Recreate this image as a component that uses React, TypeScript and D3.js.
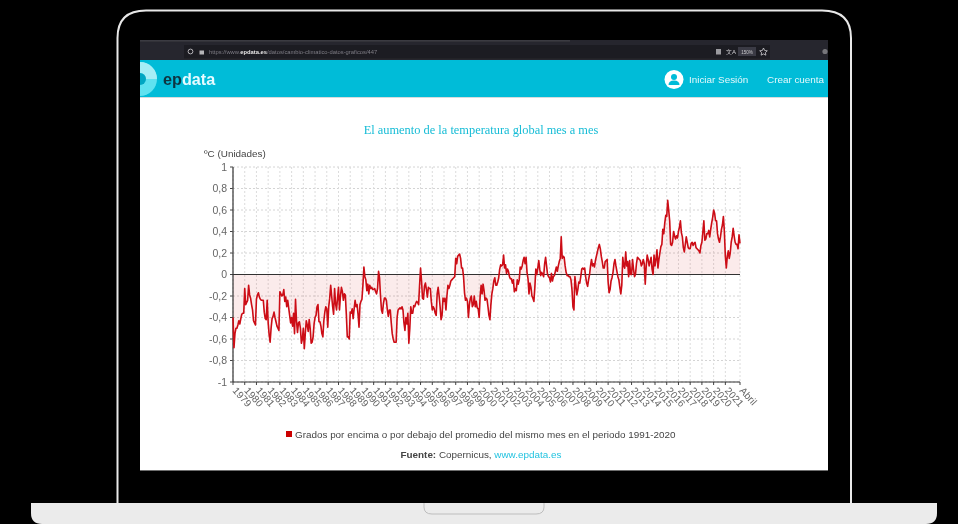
import React from "react";
import * as d3 from "d3";

// monthly anomaly, Jan 1979 to Apr 2022, one row per year
const anomalies: number[] = [
  -0.40,-0.68,-0.55,-0.50,-0.50,-0.47,-0.43,-0.46,-0.41,-0.37,-0.36,-0.36,
  -0.13,-0.28,-0.26,-0.24,-0.10,-0.19,-0.22,-0.28,-0.33,-0.43,-0.45,-0.47,
  -0.23,-0.19,-0.17,-0.21,-0.23,-0.24,-0.24,-0.24,-0.35,-0.41,-0.42,-0.24,
  -0.45,-0.56,-0.63,-0.50,-0.41,-0.39,-0.35,-0.40,-0.44,-0.48,-0.50,-0.52,
  -0.16,-0.18,-0.20,-0.19,-0.14,-0.25,-0.21,-0.30,-0.24,-0.31,-0.38,-0.45,
  -0.40,-0.48,-0.36,-0.55,-0.23,-0.43,-0.54,-0.45,-0.44,-0.50,-0.64,-0.60,
  -0.50,-0.69,-0.55,-0.43,-0.47,-0.53,-0.42,-0.50,-0.64,-0.63,-0.58,-0.46,
  -0.40,-0.38,-0.30,-0.28,-0.44,-0.44,-0.48,-0.55,-0.58,-0.43,-0.35,-0.30,
  -0.32,-0.49,-0.30,-0.22,-0.10,-0.20,-0.30,-0.37,-0.13,-0.27,-0.33,-0.22,
  -0.12,-0.33,-0.20,-0.12,-0.16,-0.24,-0.18,-0.19,-0.37,-0.58,-0.58,-0.60,
  -0.35,-0.36,-0.32,-0.41,-0.32,-0.24,-0.30,-0.28,-0.37,-0.49,-0.28,-0.25,
  -0.23,-0.10,0.07,-0.02,-0.05,-0.15,-0.09,-0.18,-0.10,-0.13,-0.12,-0.14,
  -0.14,-0.13,-0.16,-0.18,-0.13,0.03,-0.03,-0.20,-0.33,-0.36,-0.27,-0.22,
  -0.22,-0.24,-0.33,-0.39,-0.33,-0.33,-0.45,-0.55,-0.60,-0.63,-0.63,-0.63,
  -0.40,-0.33,-0.32,-0.31,-0.32,-0.30,-0.33,-0.45,-0.52,-0.40,-0.46,-0.36,
  -0.64,-0.50,-0.30,-0.36,-0.36,-0.29,-0.30,-0.27,-0.25,-0.26,-0.28,-0.10,
  0.06,-0.06,-0.22,-0.23,-0.11,-0.08,-0.14,-0.21,-0.12,-0.13,-0.13,-0.25,
  -0.33,-0.30,-0.32,-0.36,-0.38,-0.18,-0.12,-0.20,-0.30,-0.42,-0.38,-0.22,
  -0.25,-0.22,-0.33,-0.20,-0.10,-0.13,-0.10,-0.06,-0.05,-0.04,-0.03,-0.02,
  0.15,0.10,0.17,0.18,0.19,0.15,0.06,0.06,-0.02,-0.17,-0.24,-0.22,
  -0.25,-0.40,-0.28,-0.22,-0.20,-0.30,-0.28,-0.20,-0.30,-0.25,-0.31,-0.32,
  -0.40,-0.20,-0.10,-0.18,-0.09,-0.15,-0.24,-0.22,-0.23,-0.30,-0.38,-0.42,
  -0.28,-0.18,-0.13,-0.06,-0.03,-0.10,-0.10,-0.07,-0.03,0.05,0.09,0.08,
  0.09,0.18,0.06,0.09,0.01,0.05,0.03,-0.02,-0.04,-0.04,-0.08,-0.05,
  -0.16,-0.13,-0.15,-0.05,-0.09,-0.05,0.07,0.05,0.08,0.13,0.16,0.10,
  0.16,0.02,-0.04,-0.18,-0.08,-0.12,-0.20,-0.22,-0.25,-0.12,0.05,0.0,
  0.06,0.13,0.05,-0.01,0.02,0.0,-0.02,0.10,0.16,0.08,0.0,-0.02,
  -0.03,-0.07,0.01,-0.06,-0.02,-0.01,0.03,0.07,0.03,0.08,0.12,0.15,
  0.35,0.15,0.17,0.16,0.08,0.02,-0.01,-0.01,-0.02,-0.02,-0.05,-0.14,
  -0.30,-0.33,-0.02,-0.10,-0.19,-0.14,-0.07,-0.08,-0.02,0.05,0.06,0.05,
  0.06,-0.02,-0.08,-0.11,-0.05,0.0,0.08,0.14,0.08,0.10,0.07,0.13,
  0.17,0.21,0.25,0.28,0.24,0.17,0.12,0.06,0.06,0.12,0.13,0.14,
  -0.07,-0.17,-0.14,-0.06,-0.03,0.02,0.10,0.14,0.08,0.03,-0.02,-0.05,
  -0.12,-0.18,-0.10,0.16,0.08,0.06,0.21,0.08,0.12,-0.02,0.13,0.0,
  0.0,0.14,0.05,-0.02,0.0,0.10,0.16,0.15,0.14,0.13,0.08,0.10,
  0.14,0.10,-0.09,0.08,0.18,0.14,0.08,0.12,0.16,0.05,0.0,0.18,
  0.08,0.14,0.23,0.06,0.14,0.20,0.26,0.28,0.42,0.38,0.48,0.55,
  0.54,0.69,0.60,0.50,0.28,0.27,0.30,0.40,0.36,0.33,0.36,0.34,
  0.40,0.44,0.50,0.39,0.35,0.25,0.21,0.28,0.35,0.30,0.25,0.24,
  0.24,0.29,0.30,0.27,0.29,0.30,0.25,0.24,0.23,0.22,0.20,0.27,
  0.30,0.40,0.50,0.32,0.33,0.38,0.38,0.41,0.35,0.42,0.48,0.53,
  0.60,0.57,0.50,0.50,0.38,0.33,0.30,0.35,0.42,0.46,0.54,0.40,
  0.17,0.06,0.17,0.22,0.15,0.20,0.30,0.35,0.43,0.36,0.30,0.28,
  0.28,0.24,0.37,0.29,
];

const yearLabels = d3.range(1979, 2022).map(String);
const lastLabel = "Abril";
const yTicks = [1, 0.8, 0.6, 0.4, 0.2, 0, -0.2, -0.4, -0.6, -0.8, -1];

const width = 958;
const height = 524;
const sans = "'Liberation Sans', Arial, sans-serif";

const x = d3.scaleLinear().domain([0, anomalies.length - 1]).range([233, 740]);
const y = d3.scaleLinear().domain([-1, 1]).range([382, 167]);

const line = d3.line<number>().x((_, i) => x(i)).y((d) => y(d));
const area = d3.area<number>().x((_, i) => x(i)).y0(y(0)).y1((d) => y(d));
const yearTicks = yearLabels.map((label, i) => ({ label, pos: x(i * 12) }));
const fmt = (v: number) => String(v).replace(".", ",");

export default function App() {
  const endX = x(anomalies.length - 1);
  return (
    <svg width={width} height={height} style={{ position: "fixed", left: 0, top: 0, background: "#000" }}>
      <defs>
        <filter id="soft" x="0" y="0" width="100%" height="100%">
          <feGaussianBlur stdDeviation="0.45" />
        </filter>
        <clipPath id="logoClip">
          <rect x={140} y={60} width={30} height={37} />
        </clipPath>
      </defs>

      {/* laptop */}
      <path d="M117.5 503 V38 Q117.5 10.5 146 10.5 H822 Q851 10.5 851 38 V503" fill="none" stroke="#e8e8e8" strokeWidth={2} />
      <path d="M31 503 H937 V513 Q937 524 926 524 H42 Q31 524 31 513 Z" fill="#ebebeb" />
      <path d="M424 503 V507 Q424 514 432 514 H536 Q544 514 544 507 V503" fill="none" stroke="#bdbdbd" strokeWidth={1} />

      {/* browser */}
      <g filter="url(#soft)">
        <rect x={140} y={40} width={688} height={20} fill="#26262d" />
        <rect x={140} y={40} width={430} height={1.5} fill="#3a3a42" />
        <rect x={184} y={45} width={586} height={13.5} fill="#1c1b22" />
        <circle cx={190.5} cy={51.5} r={2.4} fill="none" stroke="#b5b5b8" strokeWidth={1} />
        <rect x={199.5} y={50.5} width={4.5} height={4} fill="#b5b5b8" />
        <text x={209} y={53.5} fontFamily={sans} fontSize={5.8} fill="#7f7f86">
          https://www.<tspan fill="#e6e6e6" fontWeight="bold">epdata.es</tspan>/datos/cambio-climatico-datos-graficos/447
        </text>
        <rect x={716} y={49} width={5} height={5.5} fill="#9a9a9f" />
        <text x={726} y={54} fontFamily={sans} fontSize={6} fill="#d0d0d3">文A</text>
        <rect x={738} y={47} width={18} height={9} fill="#3b3b44" />
        <text x={747} y={53.5} textAnchor="middle" fontFamily={sans} fontSize={4.6} fill="#c8c8cc">150%</text>
        <path d="M763.5 48 l1.2 2.5 2.6 .3 -1.9 1.8 .5 2.6 -2.4 -1.3 -2.4 1.3 .5 -2.6 -1.9 -1.8 2.6 -.3z" fill="none" stroke="#d0d0d3" strokeWidth={0.8} />
        <circle cx={825} cy={51.5} r={2.6} fill="#77777c" />

        <rect x={140} y={60} width={688} height={37} fill="#00bcd8" />
        <rect x={140} y={97} width={688} height={373} fill="#fff" />
        <rect x={140} y={97} width={688} height={1} fill="#d6dcdd" />
        <rect x={140} y={470} width={688} height={0.8} fill="#8a8a8a" />

        <g clipPath="url(#logoClip)">
          <circle cx={140} cy={79} r={17} fill="#5fe2f0" />
          <path d="M140 62 A17 17 0 0 1 157 79 L146 79 A6 6 0 0 0 140 73 Z" fill="#a6eef6" />
          <circle cx={140} cy={79} r={6} fill="#00a6c2" />
        </g>
        <text x={163} y={85} fontFamily={sans} fontSize={16.2} fontWeight="bold" fill="#0f3440">
          ep<tspan fill="#e6fbff">data</tspan>
        </text>

        <circle cx={674} cy={79.5} r={9.5} fill="#fff" />
        <circle cx={674} cy={77} r={3} fill="#00bcd8" />
        <path d="M668.5 85 Q668.5 80.5 674 80.5 Q679.5 80.5 679.5 85 Z" fill="#00bcd8" />
        <text x={689} y={83} fontFamily={sans} fontSize={9.9} fill="#e4f8fb">Iniciar Sesión</text>
        <text x={767} y={83} fontFamily={sans} fontSize={9.9} fill="#e4f8fb">Crear cuenta</text>

        {/* chart */}
        <text x={481} y={133.5} textAnchor="middle" fontFamily="'Liberation Serif', serif" fontSize={12.4} fill="#15bcd6">
          El aumento de la temperatura global mes a mes
        </text>
        <text x={204} y={157} fontFamily={sans} fontSize={9.9} fill="#444">ºC (Unidades)</text>

        {yTicks.map((t) => (
          <g key={t}>
            <line x1={233} x2={740} y1={y(t)} y2={y(t)} stroke="#d4d4d4" strokeWidth={1} strokeDasharray="2 2" />
            <line x1={230} x2={233} y1={y(t)} y2={y(t)} stroke="#444" />
            <text x={227} y={y(t) + 3.8} textAnchor="end" fontFamily={sans} fontSize={10.5} fill="#666">{fmt(t)}</text>
          </g>
        ))}
        {yearTicks.map((t) => (
          <g key={t.label}>
            <line x1={t.pos} x2={t.pos} y1={167} y2={382} stroke="#dcdcdc" strokeWidth={1} strokeDasharray="2 2" />
            <line x1={t.pos} x2={t.pos} y1={382} y2={385} stroke="#444" />
            <text transform={`translate(${t.pos - 1},${391}) rotate(48)`} fontFamily={sans} fontSize={10} fill="#666">{t.label}</text>
          </g>
        ))}
        <line x1={endX} x2={endX} y1={167} y2={382} stroke="#dcdcdc" strokeDasharray="2 2" />
        <line x1={endX} x2={endX} y1={382} y2={385} stroke="#444" />
        <text transform={`translate(${endX - 1},${391}) rotate(48)`} fontFamily={sans} fontSize={10} fill="#666">{lastLabel}</text>

        <path d={area(anomalies) ?? ""} fill="#cc0000" fillOpacity={0.08} />
        <line x1={233} x2={740} y1={y(0)} y2={y(0)} stroke="#333" strokeWidth={1.2} />
        <line x1={233} x2={233} y1={167} y2={382} stroke="#333" strokeWidth={1.2} />
        <line x1={233} x2={740} y1={382} y2={382} stroke="#333" strokeWidth={1.2} />
        <path d={line(anomalies) ?? ""} fill="none" stroke="#cc0a14" strokeWidth={1.6} strokeLinejoin="round" />

        {/* legend */}
        <rect x={286} y={431} width={6} height={6} fill="#cc0000" />
        <text x={295} y={437.5} fontFamily={sans} fontSize={9.9} fill="#444">
          Grados por encima o por debajo del promedio del mismo mes en el periodo 1991-2020
        </text>
        <text x={400.5} y={458} fontFamily={sans} fontSize={9.9} fill="#444">
          <tspan fontWeight="bold">Fuente:</tspan> Copernicus, <tspan fill="#22c3e0">www.epdata.es</tspan>
        </text>
      </g>
    </svg>
  );
}
